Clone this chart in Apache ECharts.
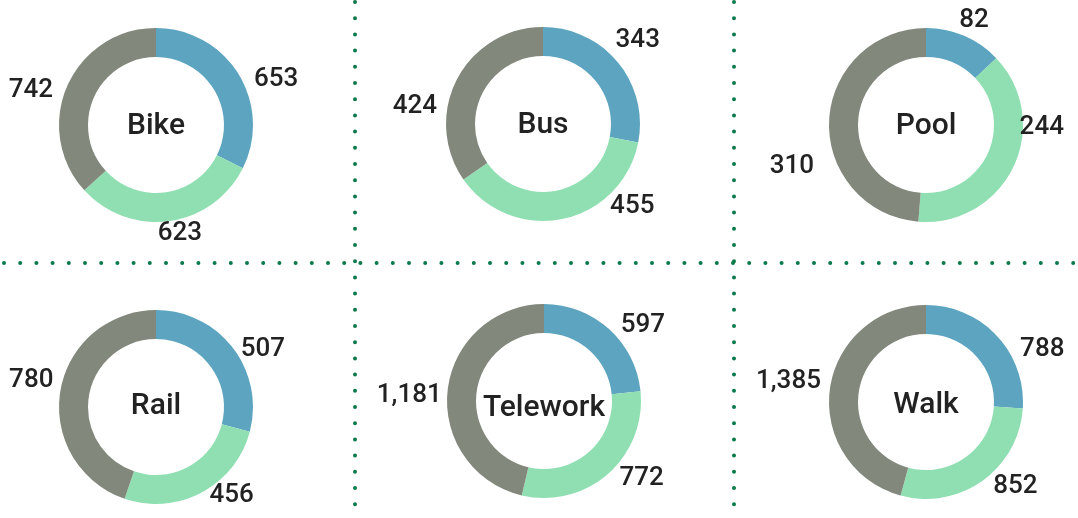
<!DOCTYPE html>
<html>
<head>
<meta charset="utf-8">
<style>
  html, body { margin: 0; padding: 0; background: #fff; }
  #chart { width: 1078px; height: 518px; }
</style>
<script src="https://cdn.jsdelivr.net/npm/echarts@6/dist/echarts.min.js"></script>
</head>
<body>
<div id="chart"></div>
<script>
// modes and the three segments of each donut
const categories = ['Bike', 'Bus', 'Pool', 'Rail', 'Telework', 'Walk']
const blueValues = [653, 343, 82, 507, 597, 788]
const greenValues = [623, 455, 244, 456, 772, 852]
const grayValues = [742, 424, 310, 780, 1181, 1385]

const colors = ['#5ca4bf', '#90dfb2', '#82887c']
const centers = [[156, 125], [543, 124], [926, 125], [156, 407], [544, 401], [926, 402]]
const titleY = [126, 125, 126, 406, 408, 405]
const font = 'Roboto, "Liberation Sans", sans-serif'
const dotColor = '#0b7a4b'

// small hand nudges for labels that the original placed off the slice middle
const labelNudge = {
  '0-0': [2, 11], '0-1': [-18, 3], '0-2': [0, 9],
  '1-0': [-15, -15], '1-1': [40, -22], '1-2': [-6, 32],
  '2-0': [-14, -6], '2-1': [-8, -44], '2-2': [0, 46],
  '3-0': [-5, 8], '3-1': [-2, -6], '3-2': [8, -9],
  '4-0': [0, 4], '4-1': [0, -3], '4-2': [9, 7],
  '5-0': [11, 21], '5-1': [0, -3], '5-2': [6, -6],
}

const chart = echarts.init(document.getElementById('chart'))

const series = categories.map((name, i) => ({
  type: 'pie',
  name: name,
  center: centers[i],
  radius: [68, 97],
  startAngle: 90,
  clockwise: true,
  silent: true,
  avoidLabelOverlap: false,
  itemStyle: { borderWidth: 0 },
  label: {
    show: true,
    position: 'outside',
    fontFamily: font,
    fontSize: 26,
    fontWeight: 500,
    color: '#222',
    distanceToLabelLine: 5,
    formatter: (p) => p.value.toLocaleString('en-US'),
  },
  labelLine: { show: false, length: 10, length2: 0 },
  labelLayout: (p) => {
    const n = labelNudge[p.seriesIndex + '-' + p.dataIndex]
    return n ? { dx: n[0], dy: n[1] } : {}
  },
  data: [
    { value: blueValues[i], itemStyle: { color: colors[0] } },
    { value: greenValues[i], itemStyle: { color: colors[1] } },
    { value: grayValues[i], itemStyle: { color: colors[2] } },
  ],
}))

// centre titles
const titles = categories.map((name, i) => ({
  text: name,
  left: centers[i][0],
  top: titleY[i],
  padding: 0,
  textAlign: 'center',
  textVerticalAlign: 'middle',
  textStyle: { fontFamily: font, fontSize: 30, fontWeight: 500, color: '#222' },
}))

// dotted green separators
const dotStyle = {
  stroke: dotColor,
  lineWidth: 4,
  lineCap: 'round',
  lineDash: [0, 16.2],
}
const graphic = [
  { type: 'line', shape: { x1: 355, y1: 2, x2: 355, y2: 518 }, style: dotStyle, silent: true },
  { type: 'line', shape: { x1: 734, y1: 2, x2: 734, y2: 518 }, style: dotStyle, silent: true },
  { type: 'line', shape: { x1: 4, y1: 263, x2: 1078, y2: 263 }, style: dotStyle, silent: true },
]

chart.setOption({
  animation: false,
  title: titles,
  graphic: graphic,
  series: series,
})
</script>
</body>
</html>
